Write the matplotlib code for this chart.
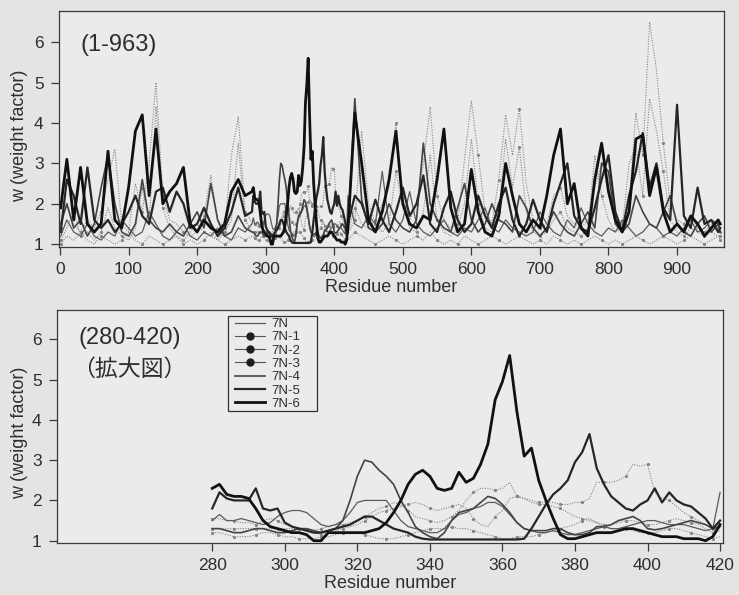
import numpy as np
import matplotlib
matplotlib.use("Agg")
import matplotlib.pyplot as plt
from matplotlib.lines import Line2D
from matplotlib.patches import Rectangle

plt.rcParams['font.family'] = ['Liberation Sans', 'DejaVu Sans']

# residue numbers of the read points: coarse outside 280-420, fine inside
residue = np.r_[1, np.arange(10, 271, 10), np.arange(280, 421, 2),
                np.arange(430, 961, 10), 963]

labels = ['7N', '7N-1', '7N-2', '7N-3', '7N-4', '7N-5', '7N-6']

# weight factor w (left part / 280-420 / right part)
w_7N = ([1.2, 1.6, 1.3, 1.2, 1.5, 1.2, 1.1, 1.3, 1.2, 1.6, 1.4, 1.2, 1.3, 1.8,
         1.5, 1.2, 1.1, 1.3, 1.5, 1.2, 1.1, 1.3, 1.2, 1.4, 1.2, 1.1, 1.4, 1.3]
        + [1.5, 1.65, 1.5, 1.5, 1.55, 1.5, 1.45, 1.4, 1.45, 1.6,
           1.7, 1.75, 1.75, 1.7, 1.55, 1.4, 1.35, 1.4, 1.5, 1.7,
           1.95, 2.0, 2.0, 2.0, 2.0, 1.75, 1.5, 1.35, 1.3, 1.25,
           1.2, 1.2, 1.3, 1.5, 1.65, 1.7, 1.8, 1.85, 1.95, 1.95,
           1.85, 1.65, 1.45, 1.3, 1.25, 1.2, 1.2, 1.25, 1.2, 1.15,
           1.15, 1.2, 1.25, 1.3, 1.35, 1.3, 1.3, 1.35, 1.4, 1.45,
           1.5, 1.5, 1.45, 1.4, 1.4, 1.4, 1.35, 1.3, 1.25, 1.3, 2.2]
        + [1.5, 1.4, 1.7, 1.5, 2.8, 1.5, 1.3, 1.6, 2.3, 1.5,
           1.3, 1.2, 1.4, 1.6, 1.3, 1.2, 1.4, 1.3, 1.6, 1.9,
           1.4, 1.3, 1.6, 1.4, 1.3, 1.2, 1.3, 1.8, 1.5, 1.3,
           1.2, 1.6, 1.4, 1.9, 1.5, 1.3, 1.2, 1.4, 1.3, 1.6,
           1.4, 1.2, 1.3, 1.5, 1.4, 1.2, 1.3, 1.2, 1.4, 1.6,
           1.3, 1.4, 1.6, 1.5, 1.4])

w_7N1 = ([1.4, 2.0, 1.5, 1.3, 1.6, 1.4, 1.8, 2.6, 3.35, 1.5, 1.3, 2.5, 1.8, 3.0,
          5.0, 2.2, 1.6, 1.5, 1.3, 1.2, 1.3, 1.7, 2.7, 1.6, 1.4, 3.2, 4.15, 1.8]
         + [1.55, 1.55, 1.5, 1.5, 1.45, 1.45, 1.4, 1.5, 1.55, 1.5,
            1.4, 1.35, 1.3, 1.3, 1.25, 1.3, 1.35, 1.4, 1.4, 1.45,
            1.5, 1.6, 1.7, 1.8, 1.85, 1.95, 1.9, 1.75, 1.6, 1.55,
            1.5, 1.45, 1.5, 1.6, 1.75, 2.0, 2.2, 2.3, 2.3, 2.25,
            2.3, 2.45, 2.1, 2.05, 2.0, 1.95, 1.95, 1.95, 1.9, 1.9,
            1.95, 1.95, 2.05, 2.45, 2.45, 2.45, 2.5, 2.6, 2.9, 2.85,
            2.9, 2.2, 2.05, 2.0, 1.85, 1.7, 1.6, 1.5, 1.4, 1.3, 1.3]
         + [1.9, 1.5, 1.4, 1.6, 2.0, 2.4, 4.0, 2.1, 1.6, 2.0,
            3.0, 4.4, 2.2, 1.6, 1.4, 1.5, 3.1, 4.55, 3.2, 1.8,
            1.5, 2.6, 4.2, 3.2, 4.35, 2.5, 1.6, 1.4, 1.5, 2.2,
            2.4, 1.7, 1.5, 1.4, 1.6, 2.4, 3.0, 2.4, 1.7, 1.5,
            2.0, 4.25, 3.2, 6.5, 5.3, 3.5, 2.0, 1.6, 1.5, 1.7,
            1.4, 1.3, 1.5, 1.4, 1.3])

w_7N2 = ([1.1, 1.4, 1.8, 1.2, 1.3, 1.1, 1.3, 1.9, 1.4, 1.2, 1.1, 1.4, 2.4, 1.5,
          4.4, 1.9, 1.4, 1.2, 1.1, 1.3, 1.5, 1.3, 1.2, 1.1, 1.3, 1.6, 3.5, 1.6]
         + [1.3, 1.3, 1.3, 1.3, 1.3, 1.3, 1.3, 1.3, 1.3, 1.3,
            1.3, 1.3, 1.3, 1.3, 1.2, 1.15, 1.2, 1.25, 1.3, 1.35,
            1.4, 1.5, 1.6, 1.7, 1.75, 1.8, 1.85, 1.9, 1.95, 1.9,
            1.8, 1.75, 1.8, 1.85, 1.9, 1.8, 1.55, 1.4, 1.35, 1.6,
            1.75, 2.05, 2.1, 2.05, 1.95, 1.9, 1.9, 1.85, 1.8, 1.7,
            1.6, 1.55, 1.5, 1.45, 1.4, 1.4, 1.45, 1.5, 1.5, 1.45,
            1.4, 1.4, 1.45, 1.5, 1.55, 1.5, 1.45, 1.4, 1.3, 1.2, 1.25]
         + [1.6, 3.8, 2.0, 1.5, 1.3, 1.5, 2.8, 1.9, 1.4, 1.3,
            1.8, 3.2, 1.6, 1.3, 1.2, 1.4, 2.0, 3.6, 2.0, 1.4,
            1.3, 1.8, 3.6, 2.4, 3.4, 1.8, 1.3, 1.2, 1.3, 1.6,
            1.8, 1.4, 1.3, 1.2, 1.4, 3.2, 2.2, 1.6, 1.3, 1.4,
            3.0, 3.4, 2.2, 4.6, 3.8, 2.8, 1.6, 1.3, 1.2, 1.4,
            1.3, 1.2, 1.3, 1.2, 1.2])

w_7N3 = ([1.0, 1.2, 1.1, 1.3, 1.1, 1.0, 1.2, 1.1, 1.0, 1.1, 1.3, 1.1, 1.0, 1.2,
          1.1, 1.0, 1.1, 1.2, 1.0, 1.1, 1.0, 1.1, 1.3, 1.1, 1.0, 1.1, 1.2, 1.1]
         + [1.2, 1.2, 1.15, 1.1, 1.1, 1.1, 1.15, 1.2, 1.2, 1.15,
            1.1, 1.1, 1.05, 1.05, 1.05, 1.1, 1.1, 1.15, 1.2, 1.2,
            1.2, 1.15, 1.1, 1.05, 1.05, 1.05, 1.1, 1.15, 1.2, 1.25,
            1.3, 1.3, 1.3, 1.35, 1.3, 1.3, 1.25, 1.2, 1.15, 1.1,
            1.05, 1.05, 1.1, 1.1, 1.1, 1.15, 1.2, 1.25, 1.3, 1.35,
            1.4, 1.5, 1.55, 1.45, 1.35, 1.3, 1.3, 1.3, 1.25, 1.2,
            1.2, 1.2, 1.25, 1.3, 1.3, 1.25, 1.2, 1.15, 1.1, 1.05, 1.1]
         + [1.3, 1.2, 1.1, 1.0, 1.1, 1.2, 1.1, 1.0, 1.1, 1.2,
            1.1, 1.3, 1.1, 1.0, 1.1, 1.0, 1.2, 1.1, 1.0, 1.1,
            1.2, 1.1, 1.0, 1.1, 1.2, 1.1, 1.0, 1.1, 1.0, 1.2,
            1.1, 1.0, 1.1, 1.0, 1.1, 1.2, 1.1, 1.0, 1.1, 1.0,
            1.1, 1.2, 1.1, 1.0, 1.1, 1.2, 1.1, 1.0, 1.1, 1.2,
            1.1, 1.0, 1.1, 1.2, 1.1])

w_7N4 = ([1.5, 2.0, 1.4, 1.6, 1.2, 1.5, 2.4, 3.2, 2.0, 1.3, 1.2, 1.5, 2.6, 1.6,
          1.4, 1.3, 1.5, 1.3, 1.2, 1.5, 1.8, 1.4, 2.5, 1.6, 1.2, 1.3, 1.7, 1.4]
         + [1.3, 1.3, 1.25, 1.2, 1.2, 1.25, 1.3, 1.3, 1.25, 1.2,
            1.2, 1.25, 1.3, 1.3, 1.25, 1.2, 1.25, 1.3, 1.5, 2.0,
            2.6, 3.0, 2.95, 2.75, 2.6, 2.4, 2.0, 1.7, 1.35, 1.2,
            1.1, 1.05, 1.2, 1.5, 1.7, 1.75, 1.8, 1.95, 2.1, 2.05,
            1.9, 1.7, 1.45, 1.3, 1.25, 1.25, 1.25, 1.3, 1.3, 1.2,
            1.15, 1.15, 1.2, 1.35, 1.35, 1.4, 1.5, 1.55, 1.6, 1.5,
            1.3, 1.27, 1.3, 1.35, 1.4, 1.45, 1.5, 1.45, 1.4, 1.3, 1.35]
         + [4.6, 2.1, 1.4, 1.3, 1.5, 2.0, 1.6, 1.4, 1.3, 1.6,
            3.5, 2.0, 1.6, 1.4, 1.3, 1.9, 2.5, 1.6, 1.3, 1.5,
            2.0, 1.6, 1.5, 1.3, 2.2, 1.9, 1.4, 1.2, 1.4, 1.8,
            1.5, 1.3, 1.2, 1.5, 1.8, 1.4, 3.0, 2.8, 1.5, 1.3,
            1.5, 2.2, 1.8, 1.5, 1.4, 1.8, 2.2, 1.5, 1.3, 1.2,
            1.5, 1.7, 1.3, 1.5, 1.3])

w_7N5 = ([1.3, 2.6, 2.2, 1.5, 2.9, 1.6, 1.4, 1.6, 1.3, 1.5, 1.8, 2.2, 1.7, 1.5,
          2.3, 2.4, 1.8, 2.3, 2.0, 1.4, 1.5, 1.9, 1.5, 1.2, 1.4, 1.8, 2.4, 1.7]
         + [1.8, 2.2, 2.05, 2.0, 2.0, 2.0, 2.3, 1.8, 1.75, 1.8,
            1.45, 1.35, 1.3, 1.25, 1.2, 1.2, 1.25, 1.3, 1.35, 1.4,
            1.5, 1.6, 1.6, 1.5, 1.4, 1.3, 1.25, 1.2, 1.1, 1.05,
            1.03, 1.03, 1.03, 1.03, 1.03, 1.03, 1.03, 1.03, 1.03, 1.03,
            1.03, 1.03, 1.03, 1.05, 1.3, 1.6, 1.9, 2.15, 2.3, 2.5,
            2.95, 3.2, 3.65, 2.8, 2.4, 2.1, 1.95, 1.8, 1.75, 1.9,
            2.0, 2.3, 1.95, 2.2, 2.0, 1.9, 1.85, 1.7, 1.55, 1.3, 1.5]
         + [2.2, 2.0, 1.5, 2.1, 1.6, 1.3, 1.8, 2.4, 1.7, 2.0,
            2.7, 1.5, 1.3, 1.9, 2.3, 1.6, 1.3, 1.5, 2.2, 1.7,
            1.4, 2.0, 2.4, 1.6, 1.2, 1.5, 2.1, 1.6, 1.3, 2.0,
            2.5, 3.0, 1.7, 1.4, 1.3, 1.9, 2.6, 3.2, 1.8, 1.3,
            2.2, 2.8, 3.75, 2.4, 3.0, 1.9, 1.6, 4.45, 1.7, 1.4,
            2.4, 1.5, 1.6, 1.3, 1.4])

w_7N6 = ([1.9, 3.1, 1.6, 2.9, 1.5, 1.3, 1.5, 3.3, 1.6, 1.4, 2.4, 3.8, 4.2, 2.2,
          3.85, 2.0, 2.3, 2.5, 2.9, 1.5, 1.3, 1.6, 1.4, 1.3, 1.5, 2.3, 2.6, 2.2]
         + [2.3, 2.4, 2.15, 2.1, 2.1, 2.05, 1.8, 1.5, 1.35, 1.3,
            1.25, 1.2, 1.2, 1.15, 1.0, 1.0, 1.2, 1.2, 1.2, 1.2,
            1.2, 1.2, 1.25, 1.3, 1.45, 1.7, 2.0, 2.4, 2.65, 2.75,
            2.6, 2.3, 2.25, 2.3, 2.7, 2.45, 2.55, 2.9, 3.4, 4.5,
            4.95, 5.6, 4.2, 3.1, 3.3, 2.5, 2.0, 1.55, 1.15, 1.05,
            1.05, 1.1, 1.15, 1.2, 1.2, 1.2, 1.25, 1.3, 1.3, 1.25,
            1.2, 1.15, 1.1, 1.1, 1.1, 1.05, 1.05, 1.05, 1.0, 1.1, 1.4]
         + [4.25, 3.0, 1.6, 1.3, 1.8, 2.6, 3.8, 2.0, 1.5, 1.4,
            1.7, 1.6, 2.6, 3.85, 1.9, 1.3, 1.5, 2.85, 1.8, 1.3,
            1.2, 1.7, 3.0, 2.2, 1.5, 1.3, 1.6, 1.4, 2.2, 3.2,
            3.85, 2.0, 2.5, 1.4, 1.2, 2.6, 3.5, 2.3, 1.6, 1.3,
            1.8, 3.6, 3.7, 2.2, 2.9, 1.8, 1.3, 1.5, 1.3, 1.7,
            1.5, 1.2, 1.4, 1.6, 1.5])

series = [w_7N, w_7N1, w_7N2, w_7N3, w_7N4, w_7N5, w_7N6]

# line styles per series
dot = dict(color='#858585', lw=0.8, ls=(0, (1, 1.3)), marker='o', ms=1.3,
           markevery=3)
styles = [dict(color='#5a5a5a', lw=0.9), dot, dot, dot,
          dict(color='#444444', lw=1.2), dict(color='#262626', lw=1.6),
          dict(color='#111111', lw=2.0)]
order = [1, 2, 3, 0, 4, 5, 6]

bg = '#e4e4e2'
ink = '#2e2e2e'
fig = plt.figure(figsize=(7.39, 5.95), dpi=100, facecolor=bg)
ax1 = fig.add_axes([0.0798, 0.5849, 0.8999, 0.3966])
ax2 = fig.add_axes([0.0771, 0.0874, 0.9012, 0.3916])

for ax in (ax1, ax2):
    ax.set_facecolor('#ebebe9')
    for sp in ax.spines.values():
        sp.set_color('#3a3a3a')
        sp.set_linewidth(0.9)
    ax.tick_params(direction='out', length=6, width=0.9, colors='#3a3a3a',
                   labelcolor=ink, labelsize=12.5, pad=5)
    ax.set_yticks([1, 2, 3, 4, 5, 6])
    ax.set_ylabel('w (weight factor)', fontsize=13, color=ink)
    ax.set_xlabel('Residue number', fontsize=13, color=ink, labelpad=1)

# full sequence
for i in order:
    ax1.plot(residue, series[i], **styles[i])
ax1.set_xlim(-1.5, 968.5)
ax1.set_ylim(0.93, 6.77)
ax1.set_xticks(np.arange(0, 901, 100))
ax1.text(0.033, 0.856, '(1-963)', transform=ax1.transAxes, fontsize=17,
         color=ink, ha='left', va='center')
ax1.yaxis.set_label_coords(-0.047, 0.47)

# enlarged region 280-420
zoom = (residue >= 280) & (residue <= 420)
for i in order:
    ax2.plot(residue[zoom], np.array(series[i])[zoom], **styles[i])
ax2.set_xlim(237.2, 420.8)
ax2.set_ylim(0.943, 6.73)
ax2.set_xticks(np.arange(280, 421, 20))
ax2.text(0.033, 0.88, '(280-420)', transform=ax2.transAxes, fontsize=17,
         color=ink, ha='left', va='center')
ax2.text(0.108, 0.745, '（拡大図）', transform=ax2.transAxes, fontsize=16.5,
         color=ink, ha='center', va='center',
         family=['Noto Sans CJK JP', 'DejaVu Sans'])
ax2.yaxis.set_label_coords(-0.0435, 0.472)

# legend: box drawn separately so it can be wider than its entries
ax2.add_patch(Rectangle((0.2568, 0.565), 0.1336, 0.409,
                        transform=ax2.transAxes, facecolor='#ebebe9',
                        edgecolor='#333333', lw=0.9, zorder=4))
handles = []
for i in range(7):
    st = dict(styles[i])
    if 'marker' in st:
        st = dict(color='#555555', lw=0.8, marker='o', ms=5,
                  mfc='#1e1e1e', mec='#1e1e1e')
    handles.append(Line2D([], [], **st))
leg = ax2.legend(handles, labels, loc='upper left',
                 bbox_to_anchor=(0.267, 0.966), fontsize=9.5,
                 labelspacing=0.08, handlelength=2.3, handletextpad=0.5,
                 borderpad=0, borderaxespad=0, frameon=False)
leg.set_zorder(5)
for t in leg.get_texts():
    t.set_color(ink)

fig.savefig('out.png', dpi=100, facecolor=bg)
